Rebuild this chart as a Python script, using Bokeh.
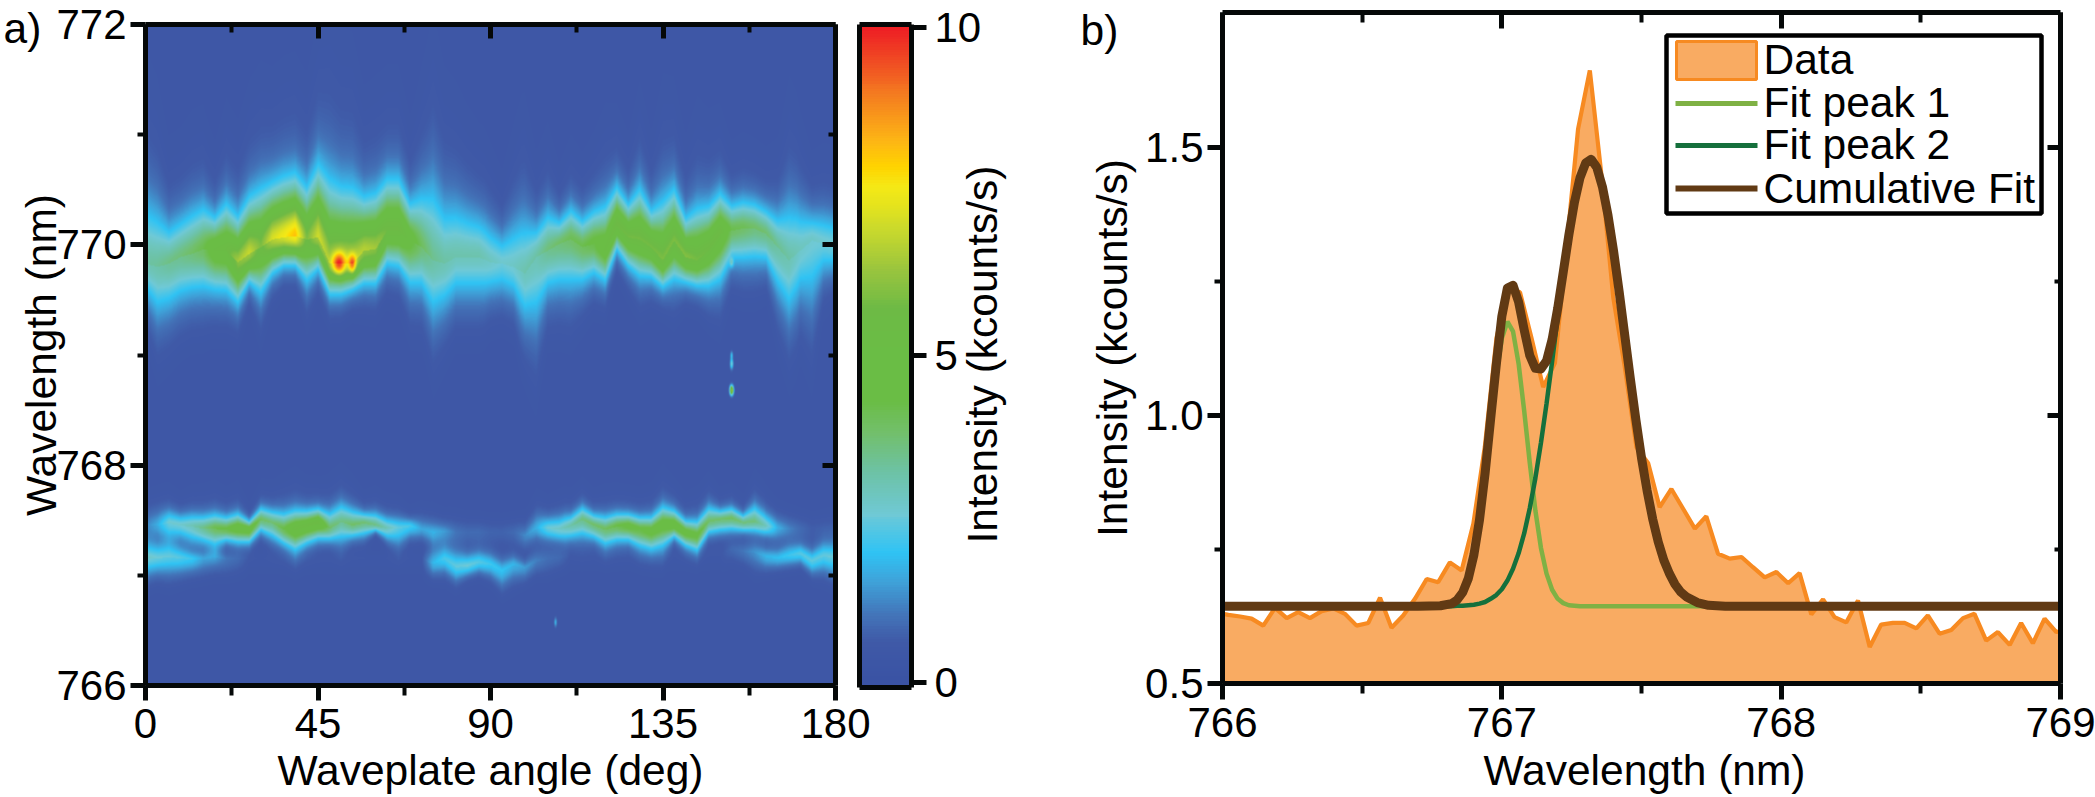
import numpy as np
from bokeh.plotting import figure
from bokeh.layouts import row
from bokeh.core.properties import value
from bokeh.models import Range1d, LinearAxis, FixedTicker, LinearColorMapper, PrintfTickFormatter, CustomJSTickFormatter
from bokeh.embed import file_html
from bokeh.resources import INLINE

FONT = "Liberation Sans"

# ---------- panel a: ridge of each band, one entry per 3 deg of waveplate angle ----------
upper_top = [770.21,770.15,770.08,770.15,770.22,770.28,770.22,770.33,770.22,770.39,770.46,770.52,770.57,770.60,770.48,770.67,770.52,770.46,770.45,770.39,770.42,770.55,770.55,770.34,770.37,770.34,770.18,770.19,770.15,770.12,770.04,769.99,770.04,770.05,770.08,770.21,770.18,770.28,770.19,770.27,770.31,770.49,770.34,770.46,770.28,770.34,770.46,770.21,770.28,770.31,770.43,770.33,770.36,770.34,770.28,770.19,770.19,770.18,770.19,770.18,770.15]
upper_bottom = [769.62,769.49,769.52,769.59,769.62,769.63,769.60,769.59,769.48,769.66,769.57,769.74,769.81,769.81,769.68,769.78,769.55,769.55,769.59,769.65,769.65,769.83,769.81,769.66,769.66,769.49,769.55,769.66,769.66,769.66,769.66,769.66,769.62,769.46,769.49,769.66,769.69,769.69,769.69,769.75,769.68,769.96,769.81,769.72,769.71,769.62,769.69,769.66,769.63,769.63,769.69,769.89,769.89,769.90,769.89,769.68,769.52,769.69,769.68,769.83,769.84]
upper_centre = [769.83,769.80,769.83,769.89,769.92,769.96,769.95,769.95,769.84,769.92,769.98,770.05,770.07,770.08,770.05,770.07,769.83,769.83,769.83,769.95,769.96,770.13,770.13,770.04,769.98,769.86,769.83,769.89,769.89,769.89,769.84,769.83,769.80,769.74,769.89,769.95,770.01,770.05,769.98,770.01,769.95,770.18,770.07,770.05,769.98,769.86,770.04,769.89,769.86,769.95,770.10,770.13,770.15,770.15,770.10,769.98,769.86,769.95,770.04,770.01,769.98]
upper_peak = [3.0,3.1,3.3,3.4,3.6,3.9,4.8,5.0,6.0,6.4,5.5,6.6,7.0,7.6,5.5,6.5,6.0,6.3,6.3,6.2,6.0,5.3,5.3,4.5,3.7,3.2,3.0,2.9,2.9,2.9,2.7,2.5,2.6,2.9,3.0,3.4,3.6,3.8,3.9,4.2,4.8,5.3,5.4,5.4,5.4,5.5,5.5,5.6,5.4,5.3,5.2,3.9,3.8,3.6,3.5,3.2,3.0,2.7,2.6,2.5,2.5]

middle_top = [767.53,767.53,767.54,767.51,767.51,767.51,767.53,767.51,767.54,767.48,767.59,767.56,767.54,767.57,767.57,767.59,767.54,767.60,767.56,767.54,767.53,767.48,767.48,767.48,767.47,767.44,767.44,767.44,767.44,767.44,767.44,767.44,767.44,767.41,767.50,767.48,767.48,767.51,767.59,767.53,767.51,767.54,767.54,767.51,767.51,767.60,767.57,767.48,767.47,767.59,767.57,767.59,767.53,767.59,767.51,767.48,767.47,767.47,767.47,767.47,767.47]
middle_bottom = [767.38,767.39,767.39,767.38,767.35,767.32,767.29,767.32,767.30,767.30,767.41,767.36,767.29,767.23,767.29,767.33,767.33,767.35,767.36,767.38,767.41,767.36,767.33,767.38,767.36,767.32,767.33,767.32,767.32,767.32,767.32,767.32,767.32,767.29,767.36,767.36,767.35,767.36,767.38,767.35,767.29,767.32,767.32,767.27,767.24,767.27,767.35,767.27,767.23,767.39,767.41,767.42,767.41,767.41,767.39,767.36,767.36,767.35,767.35,767.35,767.35]
middle_centre = [767.45,767.45,767.47,767.45,767.44,767.42,767.42,767.41,767.42,767.41,767.50,767.47,767.41,767.41,767.44,767.47,767.42,767.48,767.45,767.47,767.45,767.42,767.42,767.44,767.41,767.38,767.39,767.38,767.38,767.38,767.38,767.38,767.38,767.35,767.42,767.42,767.41,767.44,767.50,767.45,767.41,767.44,767.44,767.41,767.39,767.45,767.45,767.38,767.35,767.48,767.50,767.51,767.47,767.48,767.44,767.42,767.41,767.41,767.41,767.41,767.41]
middle_peak = [1.0,1.5,2.4,2.5,2.8,3.3,3.9,4.1,4.7,4.7,3.7,3.5,4.0,5.0,5.0,5.2,3.6,3.3,3.6,3.5,3.3,2.8,2.3,2.1,1.5,1.6,1.3,0.9,0.8,0.8,0.7,0.7,0.8,1.2,1.6,2.4,2.6,3.0,3.4,3.6,3.7,4.0,4.4,4.2,4.5,4.6,4.7,4.5,4.3,3.6,3.6,3.7,3.4,3.4,2.7,1.6,1.1,0.8,0.6,0.6,0.6]

lower_top = [767.24,767.23,767.24,767.21,767.18,767.18,767.21,767.18,767.18,767.18,767.18,767.18,767.18,767.18,767.18,767.18,767.18,767.18,767.18,767.18,767.18,767.18,767.18,767.18,767.18,767.18,767.21,767.15,767.14,767.17,767.15,767.09,767.14,767.10,767.18,767.20,767.21,767.23,767.23,767.23,767.23,767.23,767.23,767.23,767.23,767.23,767.23,767.23,767.23,767.23,767.23,767.27,767.26,767.26,767.21,767.20,767.23,767.24,767.18,767.24,767.23]
lower_bottom = [767.06,767.07,767.07,767.07,767.07,767.07,767.09,767.07,767.07,767.07,767.07,767.07,767.07,767.07,767.07,767.07,767.07,767.07,767.07,767.07,767.07,767.07,767.07,767.07,767.07,767.04,767.07,767.00,767.03,767.06,767.03,766.95,767.01,767.00,767.06,767.07,767.09,767.10,767.10,767.10,767.10,767.10,767.10,767.10,767.10,767.10,767.10,767.10,767.10,767.10,767.10,767.17,767.15,767.12,767.10,767.10,767.12,767.14,767.06,767.09,767.06]
lower_centre = [767.15,767.15,767.16,767.15,767.14,767.14,767.16,767.14,767.14,767.14,767.14,767.14,767.14,767.14,767.14,767.14,767.14,767.14,767.14,767.14,767.14,767.14,767.14,767.14,767.14,767.10,767.14,767.07,767.08,767.11,767.09,767.03,767.09,767.06,767.12,767.14,767.15,767.17,767.17,767.17,767.17,767.17,767.17,767.17,767.17,767.17,767.17,767.17,767.17,767.17,767.17,767.23,767.21,767.20,767.16,767.15,767.17,767.19,767.12,767.17,767.15]
lower_peak = [2.6,2.4,2.3,2.2,1.9,1.4,1.3,1.0,0.8,0.5,0.5,0.5,0.5,0.5,0.5,0.5,0.5,0.5,0.5,0.5,0.5,0.5,0.5,0.5,0.5,1.7,2.1,2.3,2.4,2.2,2.0,1.9,1.7,1.4,1.1,0.9,0.8,0.5,0.5,0.5,0.5,0.5,0.5,0.5,0.5,0.5,0.5,0.5,0.5,0.5,0.5,0.8,1.0,1.3,1.7,1.8,2.0,2.2,2.3,2.3,2.4]

spot_angle = [50.4, 53.9, 153.0, 153.0, 153.0, 153.0, 107.0]
spot_wave = [769.83, 769.83, 769.0, 768.92, 768.68, 769.84, 766.57]
spot_add = [3.4, 2.8, 1.4, 2.2, 6.0, 1.2, 1.4]
spot_deg_w = [1.2, 0.7, 0.25, 0.3, 0.35, 0.35, 0.25]
spot_nm_w = [0.07, 0.06, 0.025, 0.035, 0.03, 0.03, 0.03]

background_level = 0.4

cmap_pos = [0, 0.55, 1.0, 1.55, 1.95, 2.55, 3.2, 3.8, 4.3, 5.0, 5.7, 6.3, 6.9, 7.3, 7.6, 7.9, 8.3, 9.0, 9.5, 10]
cmap_hex = ["#3A53A4","#3F59A7","#4373B8","#3EA5DB","#2FC3F4","#6FC9D6","#6DC2A5","#72BF6A","#6ABD45","#6ABD45","#6DBA45","#98C43E","#C8D92D","#E6E41C","#F5E916","#FFD400","#FDB515","#F47B20","#F04E23","#EE2024"]

angle_ticks = [0, 45, 90, 135, 180]
angle_minor = [22.5, 67.5, 112.5, 157.5]
wave_ticks_a = [766, 768, 770, 772]
wave_minor_a = [767, 769, 771]
bar_ticks = [0, 5, 10]

# ---------- panel b ----------
data_wave = [765.979,766.021,766.063,766.104,766.146,766.188,766.230,766.271,766.313,766.355,766.397,766.438,766.480,766.522,766.564,766.605,766.647,766.689,766.731,766.772,766.814,766.856,766.898,766.939,766.981,767.023,767.065,767.106,767.148,767.190,767.232,767.273,767.315,767.357,767.399,767.440,767.482,767.524,767.565,767.607,767.649,767.691,767.732,767.774,767.816,767.858,767.899,767.941,767.983,768.025,768.066,768.108,768.150,768.191,768.233,768.275,768.317,768.358,768.400,768.442,768.484,768.525,768.567,768.609,768.651,768.692,768.734,768.776,768.818,768.859,768.901,768.943,768.985,769.026]
data_int = [.632,.628,.625,.621,.608,.641,.622,.633,.622,.635,
            .640,.630,.608,.613,.660,.604,.627,.658,.695,.689,
            .726,.711,.798,.941,1.145,1.237,1.230,1.145,1.053,1.098,
            1.315,1.535,1.644,1.447,1.220,1.091,.941,.911,.829,.863,
            .826,.789,.812,.742,.733,.736,.717,.698,.708,.687,
            .706,.629,.657,.624,.614,.655,.568,.610,.613,.613,
            .603,.627,.593,.600,.622,.630,.580,.596,.572,.613,
            .575,.621,.596,.600]
fit_wave = [766.00,766.60,766.70,766.78,766.82,766.84,766.86,766.88,766.90,766.92,766.94,766.96,766.98,767.00,767.02,767.04,767.06,767.08,767.10,767.12,767.14,767.16,767.18,767.20,767.22,767.24,767.26,767.28,767.30,767.32,767.34,767.36,767.38,767.40,767.42,767.44,767.46,767.48,767.50,767.52,767.54,767.56,767.58,767.60,767.62,767.64,767.66,767.70,767.74,767.80,769.00]
fit_peak1 = [.644,.644,.644,.645,.649,.655,.669,.694,.737,.800,.884,.980,1.073,1.144,1.175,1.157,1.097,1.009,.912,.823,.753,.705,.675,.658,.650,.646,.645,.644,.644,.644,.644,.644,.644,.644,.644,.644,.644,.644,.644,.644,.644,.644,.644,.644,.644,.644,.644,.644,.644,.644,.644]
fit_peak2 = [.644,.644,.644,.644,.644,.645,.645,.646,.647,.649,.652,.658,.665,.676,.692,.714,.743,.780,.827,.883,.949,1.022,1.101,1.183,1.262,1.335,1.397,1.444,1.471,1.478,1.463,1.427,1.374,1.307,1.231,1.150,1.069,.992,.921,.860,.807,.764,.730,.705,.685,.671,.662,.651,.646,.644,.644]
fit_cumulative = [.644,.644,.644,.645,.649,.656,.670,.696,.740,.805,.892,.994,1.094,1.185,1.238,1.243,1.212,1.160,1.112,1.088,1.087,1.102,1.142,1.200,1.268,1.337,1.398,1.444,1.471,1.478,1.463,1.427,1.374,1.307,1.231,1.150,1.069,.992,.921,.860,.807,.764,.730,.705,.685,.671,.662,.651,.646,.644,.644]
wave_ticks_b = [766, 767, 768, 769]
wave_minor_b = [766.5, 767.5, 768.5]
int_ticks = [0.5, 1.0, 1.5]
int_minor = [0.75, 1.25]
legend_labels = ["Data", "Fit peak 1", "Fit peak 2", "Cumulative Fit"]

# ---------- colour map ----------
def hex_rgb(h):
    return [int(h[i:i+2], 16) for i in (1, 3, 5)]
rgb = np.array([hex_rgb(h) for h in cmap_hex], float)
levels = np.linspace(0, 10, 256)
palette = ["#%02x%02x%02x" % tuple(int(round(np.interp(v, cmap_pos, rgb[:, c]))) for c in range(3)) for v in levels]
mapper = LinearColorMapper(palette=palette, low=0, high=10)

# ---------- heat map assembled from the read ridges ----------
cols = np.linspace(0, 180, 690)
rows_ = np.linspace(766, 772, 661)
col_deg = np.arange(61) * 3.0
SHAPE = 1.7
def band(top, bottom, centre, peak):
    T = np.interp(cols, col_deg, top)[None, :]
    B = np.interp(cols, col_deg, bottom)[None, :]
    C = np.interp(cols, col_deg, centre)[None, :]
    A = np.interp(cols, col_deg, peak)[None, :]
    rel = np.maximum(A - background_level, 0.05)
    z = np.log(np.maximum(rel / (2 - background_level), 1.5)) ** (1 / SHAPE)
    su, sd = (T - C) / z, (C - B) / z
    d = rows_[:, None] - C
    s = np.where(d > 0, su, sd)
    core = rel * np.exp(-np.abs(d / s) ** SHAPE)
    tail = 0.08 * rel * np.exp(-np.abs(d / (2.4 * su)) ** 2) * (d > 0)
    return core + tail
Z = background_level + band(upper_top, upper_bottom, upper_centre, upper_peak) \
    + band(middle_top, middle_bottom, middle_centre, middle_peak) \
    + band(lower_top, lower_bottom, lower_centre, lower_peak)
for a, w, amp, sa, sw in zip(spot_angle, spot_wave, spot_add, spot_deg_w, spot_nm_w):
    Z += amp * np.exp(-0.5 * ((cols[None, :] - a) / sa) ** 2 - 0.5 * ((rows_[:, None] - w) / sw) ** 2)
Z = np.clip(Z, 0, 10)

# ---------- helpers ----------
def style(ax, ticks, minor, maj_in, maj_out, min_in, min_out, labels=True, standoff=6):
    ax.ticker = FixedTicker(ticks=ticks, minor_ticks=minor)
    ax.axis_line_color = "#050808"
    ax.axis_line_width = 5
    ax.major_tick_line_color = "#050808"
    ax.minor_tick_line_color = "#050808"
    ax.major_tick_line_width = 5
    ax.minor_tick_line_width = 4
    ax.major_tick_in, ax.major_tick_out = maj_in, maj_out
    ax.minor_tick_in, ax.minor_tick_out = min_in, min_out
    ax.axis_label_text_font = FONT
    ax.axis_label_text_font_style = "normal"
    ax.axis_label_text_font_size = "42.5px"
    ax.axis_label_text_color = "#000000"
    ax.major_label_text_font = FONT
    ax.major_label_text_color = "#000000"
    if labels:
        ax.major_label_text_font_size = "42px"
        ax.major_label_standoff = standoff
    else:
        ax.formatter = CustomJSTickFormatter(code="return ''")
        ax.major_label_text_font_size = "1px"
        ax.major_label_standoff = 0

def base(w, h, xr, yr, bl, br, bt, bb):
    p = figure(width=w, height=h, x_range=Range1d(*xr), y_range=Range1d(*yr), tools="",
               toolbar_location=None, output_backend="svg",
               min_border_left=bl, min_border_right=br, min_border_top=bt, min_border_bottom=bb)
    p.frame_align = False
    p.grid.visible = False
    p.outline_line_color = None
    p.border_fill_color = None
    p.background_fill_color = "#ffffff"
    return p

H = 795
W = 2095
# ---------- panel a ----------
p1 = base(880, H, (0, 180), (766, 772), 145, 45, 24, 110)
p1.image(image=[Z], x=0, y=766, dw=180, dh=6, color_mapper=mapper)
p1.yaxis.axis_label = "Wavelength (nm)"
style(p1.xaxis[0], angle_ticks, angle_minor, 0, 15, 0, 10, standoff=8)
style(p1.yaxis[0], wave_ticks_a, wave_minor_a, 0, 15, 0, 8, standoff=4)
p1.yaxis[0].axis_label_standoff = -12
top = LinearAxis(); style(top, angle_ticks, angle_minor, 14, 0, 8, 0, labels=False); p1.add_layout(top, "above")
right = LinearAxis(); style(right, wave_ticks_a, wave_minor_a, 13, 0, 7, 0, labels=False); p1.add_layout(right, "right")

# ---------- colour bar ----------
p2 = base(160, H, (0, 1), (-0.076, 10.046), 9, 99, 24, 108)
p2.margin = (0, 0, 0, -30)
bar_levels = np.linspace(-0.1, 10.1, 256)
p2.image(image=[bar_levels[:, None]], x=0, y=-0.1, dw=1, dh=10.2, color_mapper=mapper)
style(p2.xaxis[0], [], [], 0, 0, 0, 0, labels=False)
style(p2.yaxis[0], [], [], 0, 0, 0, 0, labels=False)
top2 = LinearAxis(); style(top2, [], [], 0, 0, 0, 0, labels=False); p2.add_layout(top2, "above")
right2 = LinearAxis()
style(right2, bar_ticks, [], 0, 15, 0, 0, standoff=8)
p2.add_layout(right2, "right")

# ---------- panel b ----------
FILL, EDGE, LIGHT, DARK, BROWN = "#F9AB62", "#F78A21", "#7FB144", "#15703C", "#613A14"
p3 = base(1085, H, (766, 769), (0.5, 1.752), 212, 35, 12, 112)
px = [data_wave[0]] + data_wave + [data_wave[-1]]
py = [0.5] + data_int + [0.5]
p3.patch(px, py, fill_color=FILL, line_color=EDGE, line_width=4.2)
p3.line(fit_wave, fit_peak1, line_color=LIGHT, line_width=4.5)
p3.line(fit_wave, fit_peak2, line_color=DARK, line_width=4.5)
p3.line(fit_wave, fit_cumulative, line_color=BROWN, line_width=9, line_join="round")
p3.yaxis.axis_label = "Intensity (kcounts/s)"
style(p3.xaxis[0], wave_ticks_b, wave_minor_b, 0, 16, 0, 10, standoff=8)
style(p3.yaxis[0], int_ticks, int_minor, 0, 15, 0, 8, standoff=4)
p3.yaxis[0].formatter = PrintfTickFormatter(format="%.1f")
p3.yaxis[0].axis_label_standoff = 6
top3 = LinearAxis(); style(top3, wave_ticks_b, wave_minor_b, 16, 0, 10, 0, labels=False); p3.add_layout(top3, "above")
right3 = LinearAxis(); style(right3, int_ticks, int_minor, 13, 0, 6, 0, labels=False); p3.add_layout(right3, "right")

# ---------- texts outside the plot frames and the key, on a transparent sheet over the page ----------
sheet = figure(width=W, height=H, x_range=Range1d(0, W), y_range=Range1d(H, 0), tools="",
               toolbar_location=None, output_backend="svg", title=None,
               min_border_left=0, min_border_right=0, min_border_top=0, min_border_bottom=0,
               x_axis_location=None, y_axis_location=None)
sheet.frame_align = False
sheet.grid.visible = False
sheet.outline_line_color = None
sheet.border_fill_color = None
sheet.background_fill_color = None
sheet.margin = (0, 0, 0, -W)
sheet_text = dict(text_font=value(FONT), text_font_size="42.5px", text_color="#000000", text_baseline="middle")
sheet.text(x=[3], y=[28], text=["a)"], text_align="left", **sheet_text)
sheet.text(x=[1080], y=[30], text=["b)"], text_align="left", **sheet_text)
sheet.text(x=[982], y=[354], text=["Intensity (kcounts/s)"], text_align="center", angle=[np.pi / 2], **sheet_text)
sheet.text(x=[490], y=[770], text=["Waveplate angle (deg)"], text_align="center", **sheet_text)
sheet.text(x=[1644], y=[770], text=["Wavelength (nm)"], text_align="center", **sheet_text)
sheet.quad(left=[1666], right=[2041], top=[35], bottom=[213], fill_color="#ffffff", line_color="#000000", line_width=4.5)
sheet.quad(left=[1676], right=[1756], top=[41], bottom=[79], fill_color=FILL, line_color=EDGE, line_width=3)
sheet.line([1675, 1757], [103, 103], line_color=LIGHT, line_width=5)
sheet.line([1675, 1757], [145, 145], line_color=DARK, line_width=5)
sheet.line([1675, 1757], [188, 188], line_color=BROWN, line_width=6)
sheet.text(x=[1763] * 4, y=[59, 102, 144, 188], text=legend_labels, text_align="left", **sheet_text)

page = row(p1, p2, p3, sheet)
open("out.html", "w").write(file_html(page, INLINE))
